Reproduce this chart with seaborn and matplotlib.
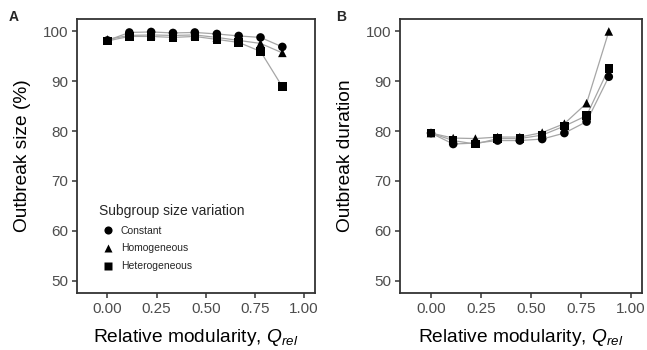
import numpy as np
import pandas as pd
import matplotlib
matplotlib.use("Agg")
import matplotlib.pyplot as plt
import seaborn as sns

# Data
q_rel = [0.0, 0.111, 0.222, 0.333, 0.444, 0.556, 0.667, 0.778, 0.889]
groups = ["Constant", "Homogeneous", "Heterogeneous"]
size_constant = [98.2, 99.8, 99.9, 99.7, 99.8, 99.5, 99.1, 98.8, 96.9]
size_homogeneous = [98.4, 99.2, 99.3, 99.2, 99.3, 98.8, 98.2, 97.6, 95.7]
size_heterogeneous = [98.1, 99.0, 99.0, 98.8, 99.0, 98.4, 97.8, 96.0, 88.9]
dur_constant = [79.6, 77.4, 77.6, 78.1, 78.1, 78.4, 79.6, 81.9, 90.9]
dur_homogeneous = [79.6, 78.6, 78.5, 78.8, 78.8, 79.7, 81.5, 85.6, 100.0]
dur_heterogeneous = [79.6, 78.1, 77.4, 78.5, 78.5, 79.2, 81.0, 83.1, 92.6]
x_ticks = [0.0, 0.25, 0.5, 0.75, 1.0]
x_tick_labels = ["0.00", "0.25", "0.50", "0.75", "1.00"]
y_ticks = [50, 60, 70, 80, 90, 100]

df = pd.DataFrame({
    "q": q_rel * 3 * 2,
    "group": sum([[g] * len(q_rel) for g in groups], []) * 2,
    "metric": ["size"] * 27 + ["dur"] * 27,
    "value": size_constant + size_homogeneous + size_heterogeneous
             + dur_constant + dur_homogeneous + dur_heterogeneous,
})

sns.set_theme(style="white")
plt.rcParams["font.family"] = ["Liberation Sans", "DejaVu Sans"]
plt.rcParams["mathtext.fontset"] = "custom"
plt.rcParams["mathtext.it"] = "Liberation Sans:italic"
plt.rcParams["mathtext.rm"] = "Liberation Sans"

fig = plt.figure(figsize=(6.47, 3.5), dpi=100)
axA = fig.add_axes([77/647, 1 - 293/350, (315 - 77)/647, (293 - 19)/350])
axB = fig.add_axes([400/647, 1 - 293/350, (642 - 400)/647, (293 - 19)/350])

markers = {"Constant": "o", "Homogeneous": "^", "Heterogeneous": "s"}

for ax, metric, ylab in [(axA, "size", "Outbreak size (%)"), (axB, "dur", "Outbreak duration")]:
    sub = df[df.metric == metric]
    sns.lineplot(data=sub, x="q", y="value", units="group", estimator=None,
                 color="#A6A6A6", lw=0.9, ax=ax, legend=False, zorder=1)
    sns.scatterplot(data=sub, x="q", y="value", style="group", markers=markers,
                    style_order=groups, color="black", s=38, edgecolor="none",
                    ax=ax, legend=(metric == "size"), zorder=3)
    ax.set_xlim(-0.155, 1.055)
    ax.set_ylim(47.5, 102.5)
    ax.set_xticks(x_ticks)
    ax.set_xticklabels(x_tick_labels)
    ax.set_yticks(y_ticks)
    ax.set_xlabel(r"Relative modularity, $Q_{rel}$", fontsize=13.8, color="black", labelpad=8)
    ax.set_ylabel(ylab, fontsize=13.8, color="black", labelpad=8)
    ax.tick_params(axis="both", labelsize=11, labelcolor="#4D4D4D", length=3.5,
                   width=1.1, color="#333333", direction="out", bottom=True, left=True, pad=3)
    for sp in ax.spines.values():
        sp.set_visible(True)
        sp.set_color("#333333")
        sp.set_linewidth(1.3)

leg = axA.legend(title="Subgroup size variation", loc="lower left",
                 bbox_to_anchor=(0.055, 0.045), frameon=False, fontsize=7.5,
                 title_fontsize=10, markerscale=0.95, handletextpad=0.45,
                 handlelength=1.6, labelspacing=0.75)
leg._legend_box.align = "left"

fig.text(9/647, 1 - 17/350, "A", fontsize=10, fontweight="bold", va="center", ha="left")
fig.text(336/647, 1 - 17/350, "B", fontsize=10, fontweight="bold", va="center", ha="left")

fig.savefig("out.png", dpi=100)
